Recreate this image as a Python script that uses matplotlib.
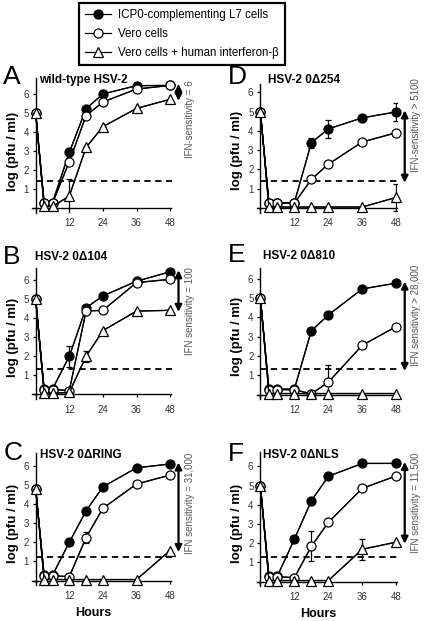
import matplotlib.pyplot as plt

plt.rcParams['font.family'] = ['Liberation Sans', 'DejaVu Sans']

hours = [0, 3, 6, 12, 18, 24, 36, 48]

series_names = ['ICP0-complementing L7 cells', 'Vero cells',
                'Vero cells + human interferon-\u03b2']

letters = ['A', 'B', 'C', 'D', 'E', 'F']
titles = ['wild-type HSV-2', 'HSV-2 0\u0394104', 'HSV-2 0\u0394RING',
          'HSV-2 0\u0394254', 'HSV-2 0\u0394810', 'HSV-2 0\u0394NLS']
sens_text = ['IFN-sensitivity = 6', 'IFN sensitivity = 100',
             'IFN sensitivity = 31,000', 'IFN-sensitivity > 5100',
             'IFN sensitivity > 28,000', 'IFN sensitivity = 11,500']
detect_limit = [1.44, 1.35, 1.22, 1.39, 1.30, 1.27]

# log titres, one list per panel and cell type
a_l7 = [5.0, 0.28, 0.28, 2.93, 5.23, 6.0, 6.44, 6.45]
a_vero = [5.0, 0.25, 0.25, 2.44, 4.86, 5.58, 6.26, 6.45]
a_ifn = [5.0, 0.08, 0.08, 0.63, 3.19, 4.28, 5.24, 5.72]
b_l7 = [5.0, 0.28, 0.28, 2.0, 4.55, 5.18, 5.95, 6.45]
b_vero = [5.0, 0.25, 0.25, 0.2, 4.38, 4.42, 5.88, 6.05]
b_ifn = [5.0, 0.05, 0.05, 0.1, 2.0, 3.35, 4.38, 4.42]
c_l7 = [4.8, 0.28, 0.28, 2.0, 3.65, 4.9, 5.9, 6.1]
c_vero = [4.8, 0.25, 0.25, 0.2, 2.25, 3.78, 5.05, 5.52]
c_ifn = [4.8, 0.05, 0.05, 0.05, 0.05, 0.05, 0.05, 1.57]
d_l7 = [5.0, 0.28, 0.28, 0.28, 3.38, 4.1, 4.67, 4.98]
d_vero = [5.0, 0.25, 0.25, 0.25, 1.48, 2.27, 3.42, 3.9]
d_ifn = [5.0, 0.05, 0.05, 0.05, 0.05, 0.05, 0.05, 0.55]
e_l7 = [5.0, 0.28, 0.28, 0.28, 3.3, 4.12, 5.47, 5.77]
e_vero = [5.0, 0.25, 0.25, 0.25, 0.03, 0.64, 2.55, 3.52]
e_ifn = [5.0, 0.05, 0.05, 0.05, 0.05, 0.05, 0.05, 0.05]
f_l7 = [5.0, 0.28, 0.28, 2.2, 4.2, 5.48, 6.15, 6.15]
f_vero = [5.0, 0.25, 0.25, 0.2, 1.83, 3.08, 4.85, 5.5]
f_ifn = [5.0, 0.05, 0.05, 0.05, 0.05, 0.05, 1.68, 2.05]

# error bars (half widths)
a_l7_err = [0, 0, 0, 0, 0, 0.2, 0, 0]
a_vero_err = [0, 0, 0, 0, 0, 0, 0, 0]
a_ifn_err = [0, 0, 0, 0.92, 0, 0, 0, 0]
b_l7_err = [0, 0, 0, 0.55, 0, 0, 0, 0]
b_vero_err = [0, 0, 0, 0, 0, 0, 0, 0]
b_ifn_err = [0, 0, 0, 0, 0.3, 0, 0, 0]
c_l7_err = [0, 0, 0, 0.15, 0, 0, 0, 0]
c_vero_err = [0, 0, 0, 0, 0.3, 0, 0, 0]
c_ifn_err = [0, 0, 0, 0, 0, 0, 0, 0]
d_l7_err = [0, 0, 0, 0, 0.25, 0.45, 0, 0.45]
d_vero_err = [0, 0, 0, 0, 0, 0, 0, 0]
d_ifn_err = [0, 0, 0, 0, 0, 0, 0, 0.7]
e_l7_err = [0, 0, 0, 0, 0, 0, 0, 0]
e_vero_err = [0, 0, 0, 0, 0, 0.9, 0.15, 0]
e_ifn_err = [0, 0, 0, 0, 0, 0, 0, 0]
f_l7_err = [0, 0, 0, 0, 0, 0, 0, 0]
f_vero_err = [0, 0, 0, 0, 0.78, 0, 0, 0]
f_ifn_err = [0, 0, 0, 0, 0, 0, 0.55, 0]

panels = [
    (a_l7, a_vero, a_ifn, a_l7_err, a_vero_err, a_ifn_err),
    (b_l7, b_vero, b_ifn, b_l7_err, b_vero_err, b_ifn_err),
    (c_l7, c_vero, c_ifn, c_l7_err, c_vero_err, c_ifn_err),
    (d_l7, d_vero, d_ifn, d_l7_err, d_vero_err, d_ifn_err),
    (e_l7, e_vero, e_ifn, e_l7_err, e_vero_err, e_ifn_err),
    (f_l7, f_vero, f_ifn, f_l7_err, f_vero_err, f_ifn_err),
]

# layout in pixels: x of 0 h, px per hour, y of 0, px per log unit, top of y axis
boxes = [
    (35.7, 2.8, 208.0, 19.0, 6.85),
    (35.7, 2.8, 394.3, 19.0, 6.65),
    (35.7, 2.8, 580.5, 19.1, 6.7),
    (260.4, 2.83, 208.0, 19.3, 6.4),
    (260.4, 2.83, 394.5, 19.3, 6.55),
    (260.4, 2.83, 581.5, 19.2, 6.75),
]
title_pos = [(1.2, 6.74), (-0.3, 7.24), (1.5, 6.57), (2.7, 6.63), (0.9, 7.2), (0.9, 6.6)]
letter_pos = [(-11.6, 6.9), (-11.6, 7.25), (-11.6, 6.65), (-11.4, 6.8), (-11.4, 7.25), (-11.4, 6.65)]

W, H = 425, 621
fig = plt.figure(figsize=(W / 100, H / 100), dpi=100)

styles = [dict(marker='o', mfc='black', ms=6.5),
          dict(marker='o', mfc='white', ms=6.5),
          dict(marker='^', mfc='white', ms=7)]

x_lo, x_hi, y_lo = -1.2, 48.3, -0.25
handles = []
for i, (x0, pxh, y0, pxu, ytop) in enumerate(boxes):
    left = x0 + x_lo * pxh
    width = (x_hi - x_lo) * pxh
    bottom = y0 - y_lo * pxu
    height = (ytop - y_lo) * pxu
    ax = fig.add_axes([left / W, 1 - bottom / H, width / W, height / H])
    ax.set_xlim(x_lo, x_hi)
    ax.set_ylim(y_lo, ytop)

    vals = panels[i]
    for k in range(3):
        y = vals[k]
        err = vals[k + 3]
        ax.errorbar(hours, y, yerr=err, color='black', lw=0.9, capsize=2.2,
                    capthick=0.9, elinewidth=0.9, zorder=3 + k)
        h, = ax.plot(hours, y, color='black', lw=0.9, mec='black', mew=0.9,
                     clip_on=False, zorder=4 + k, label=series_names[k], **styles[k])
        if i == 0:
            handles.append(h)

    lod = detect_limit[i]
    ax.plot([0, 48.5], [lod, lod], color='black', lw=1.3, dashes=(3.5, 2.5),
            clip_on=False, zorder=2)

    top = vals[0][-1] + 0.08
    bot = max(vals[2][-1], lod) - 0.08
    ax.annotate('', xy=(51, bot), xytext=(51, top), annotation_clip=False,
                arrowprops=dict(arrowstyle='<|-|>', color='black', lw=1.6,
                                mutation_scale=10, shrinkA=0, shrinkB=0))
    ax.text(55, 6.7, sens_text[i], rotation=90, ha='center', va='top',
            fontsize=7, color='#555555', clip_on=False)

    ax.text(title_pos[i][0], title_pos[i][1], titles[i], ha='left', va='center',
            fontsize=8.5, fontweight='bold', clip_on=False)
    ax.text(letter_pos[i][0], letter_pos[i][1], letters[i], ha='left', va='center',
            fontsize=19, clip_on=False)
    ax.text(-8.1, 3.0, 'log (pfu / ml)', rotation=90, ha='center', va='center',
            fontsize=9.5, fontweight='bold', clip_on=False)
    if i in (2, 5):
        ax.text(20.5, -1.68, 'Hours', ha='center', va='center',
                fontsize=9, fontweight='bold', clip_on=False)

    ax.spines['top'].set_visible(False)
    ax.spines['right'].set_visible(False)
    ax.spines['left'].set_position(('data', 0))
    ax.spines['bottom'].set_position(('data', 0))
    ax.spines['left'].set_bounds(-0.25, ytop)
    for s in ('left', 'bottom'):
        ax.spines[s].set_linewidth(1.0)
    ax.set_xticks([0, 12, 24, 36, 48])
    ax.set_xticklabels(['', '12', '24', '36', '48'])
    ax.set_yticks([0, 1, 2, 3, 4, 5, 6])
    ax.set_yticklabels(['', '1', '2', '3', '4', '5', '6'])
    ax.tick_params(direction='out', length=2.5, width=0.9, labelsize=7,
                   labelcolor='#333333')
    ax.tick_params(axis='x', pad=5)
    ax.tick_params(axis='y', pad=2.5)
    ax.patch.set_visible(False)

leg = fig.legend(handles, series_names, loc='upper left',
                 bbox_to_anchor=(79 / W, 1 - 3 / H), fontsize=8.3, frameon=True,
                 fancybox=False, edgecolor='black', framealpha=1,
                 handlelength=2.3, handletextpad=0.6, borderpad=0.5,
                 labelspacing=0.62, borderaxespad=0)
leg.get_frame().set_linewidth(1.6)

fig.savefig('out.png', dpi=100)
